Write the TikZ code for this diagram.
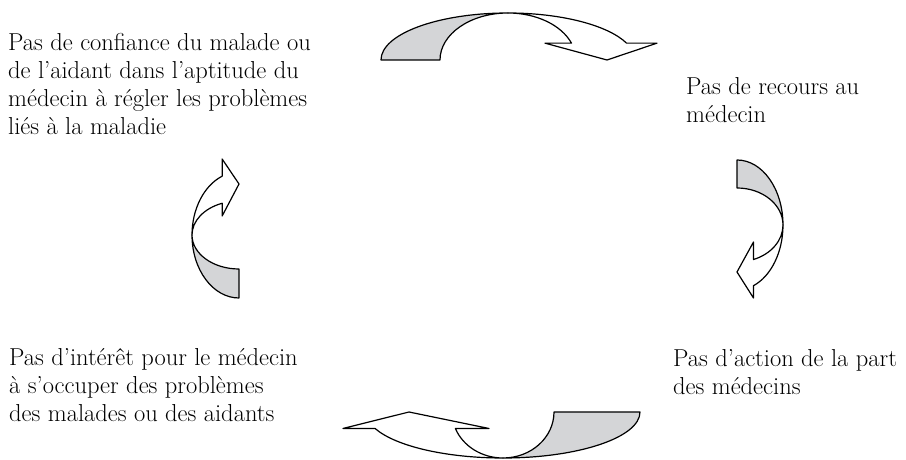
\documentclass[tikz,border=0pt]{standalone}
\usepackage{tikz}
\definecolor{figshade}{RGB}{212,213,215}
\tikzset{
  figband/.style={draw=black, line width=1.2pt, line join=round},
  figback/.style={figband, fill=figshade},
  figfront/.style={figband, fill=white},
  figlabel/.style={anchor=base west, align=left, inner sep=0pt}
}
\begin{document}
\begin{tikzpicture}[x=1pt,y=1pt,font=\fontsize{24.5}{28}\selectfont]
  \useasboundingbox (0,0) rectangle (906,460);
  % the four statements of the circle (anchored on their last line)
  \node[figlabel] (confiance) at (8,325) {Pas de confiance du malade ou\\de l’aidant dans l’aptitude du\\médecin à régler les problèmes\\liés à la maladie};
  \node[figlabel] (recours) at (686,337) {Pas de recours au\\médecin};
  \node[figlabel] (action) at (673,65) {Pas d’action de la part\\des médecins};
  \node[figlabel] (interet) at (9,38) {Pas d’intérêt pour le médecin\\à s’occuper des problèmes\\des malades ou des aidants};
  % curved arrows: centre, turn, outer/inner radius, height, tip, barbs
  \foreach \cx/\cy/\rot/\a/\b/\h/\t/\p/\q in {
      508/400/0/127/68/47/99/37/149,
      737/235/-90/65/37/46/47/17/73,
      503/48/180/137/51/46/94/14/160,
      239/225/90/63/34/47/51/19/76} {
    \begin{scope}[shift={(\cx,\cy)},rotate=\rot]
      \draw[figback] (-\a,0) arc[start angle=180,end angle=90,x radius=\a,y radius=\h]
        arc[start angle=90,end angle=180,x radius=\b,y radius=\h] -- cycle;
      \draw[figfront] (0,\h) arc[start angle=90,end angle=21,x radius=\a,y radius=\h]
        -- (\q,{\h*sin(21)}) -- (\t,0) -- (\p,{\h*sin(21)})
        -- ({\b*cos(21)},{\h*sin(21)})
        arc[start angle=21,end angle=90,x radius=\b,y radius=\h] -- cycle;
    \end{scope}
  }
\end{tikzpicture}
\end{document}
